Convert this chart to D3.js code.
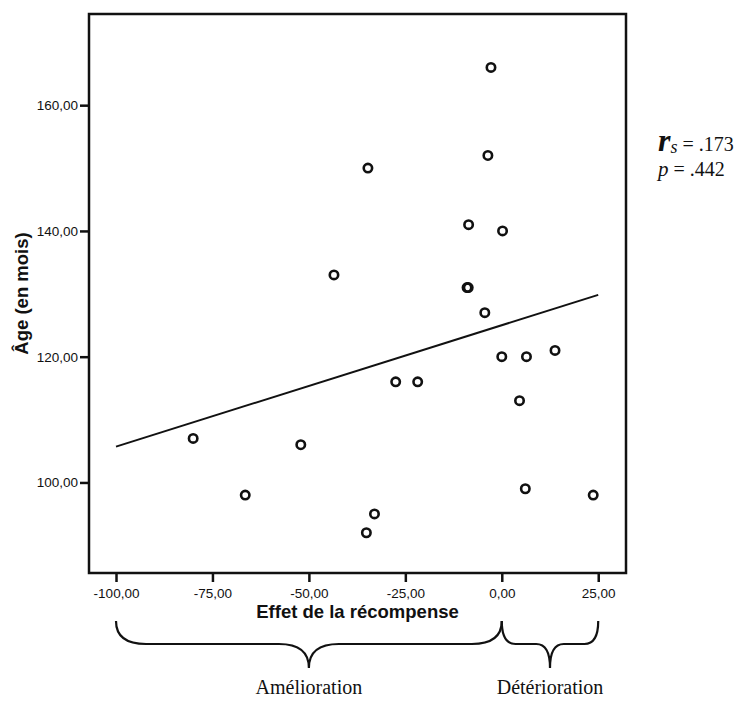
<!DOCTYPE html>
<html>
<head>
<meta charset="utf-8">
<script src="https://cdn.jsdelivr.net/npm/d3@7"></script>
<style>
  body { margin: 0; background: #fff; }
  svg { display: block; }
</style>
</head>
<body>
<svg id="drawing_region"></svg>
<script>
// values
const effet = [-2.8, -3.6, -34.7, -8.6, 0.2, -43.5, -9.0, -8.7, -4.4, 0.0, -27.5, -21.8,
               6.4, 13.8, 4.6, -52.1, -80.0, -66.5, -33.0, -35.1, 6.1, 23.7];
const age   = [166, 152, 150, 141, 140, 133, 131, 131, 127, 120, 116, 116,
               120, 121, 113, 106, 107, 98, 95, 92, 99, 98];

const xTicks = [-100, -75, -50, -25, 0, 25];
const yTicks = [100, 120, 140, 160];

// fitted line
const fitRange = [-100, 25];
const fitIntercept = 125.0;
const fitSlope = 0.193;

const braceLabels = ['Amélioration', 'Détérioration'];
const braceFrom = [-100, 0];
const braceTo = [0, 25];

const statLines = [['r', 's', ' = .173'], ['p', '', ' = .442']];

const config = {
    width: 739,
    height: 701,
    margin: {top: 14, right: 113, bottom: 128, left: 89},
    xdomain: [-107, 32.2],
    ydomain: [85.6, 174.5],
    xlabel: 'Effet de la récompense',
    ylabel: 'Âge (en mois)'
};

const svg = d3.select('#drawing_region')
    .attr('width', config.width)
    .attr('height', config.height);

const inner_width = config.width - config.margin.left - config.margin.right;
const inner_height = config.height - config.margin.top - config.margin.bottom;

const chart = svg.append('g')
    .attr('transform', `translate(${config.margin.left}, ${config.margin.top})`);

const xscale = d3.scaleLinear().domain(config.xdomain).range([0, inner_width]);
const yscale = d3.scaleLinear().domain(config.ydomain).range([inner_height, 0]);

const fr = d3.formatLocale({decimal: ',', thousands: '.', grouping: [3], currency: ['', ''], minus: '-'});
const fmt = fr.format('.2f');

const xaxis = d3.axisBottom(xscale).tickValues(xTicks).tickFormat(fmt).tickSize(9).tickSizeOuter(0).tickPadding(6);
const yaxis = d3.axisLeft(yscale).tickValues(yTicks).tickFormat(fmt).tickSize(9).tickSizeOuter(0).tickPadding(2);

const xaxis_group = chart.append('g')
    .attr('transform', `translate(0, ${inner_height})`)
    .call(xaxis);
const yaxis_group = chart.append('g').call(yaxis);

[xaxis_group, yaxis_group].forEach(g => {
    g.select('.domain').remove();
    g.selectAll('line').attr('stroke', '#111').attr('stroke-width', 2.5);
    g.selectAll('text')
        .attr('fill', '#111')
        .style('font-family', '"Liberation Sans", Arial, sans-serif')
        .style('font-size', '13.5px');
});

// frame
chart.append('rect')
    .attr('x', 0).attr('y', 0)
    .attr('width', inner_width).attr('height', inner_height)
    .attr('fill', 'none')
    .attr('stroke', '#111')
    .attr('stroke-width', 2.5);

// fit line
chart.append('line')
    .attr('x1', xscale(fitRange[0]))
    .attr('y1', yscale(fitIntercept + fitSlope * fitRange[0]))
    .attr('x2', xscale(fitRange[1]))
    .attr('y2', yscale(fitIntercept + fitSlope * fitRange[1]))
    .attr('stroke', '#111')
    .attr('stroke-width', 2);

// points
chart.selectAll('circle')
    .data(effet.map((d, i) => ({x: d, y: age[i]})))
    .join('circle')
    .attr('cx', d => xscale(d.x))
    .attr('cy', d => yscale(d.y))
    .attr('r', 4.2)
    .attr('fill', 'none')
    .attr('stroke', '#111')
    .attr('stroke-width', 2.6);

// axis titles
svg.append('text')
    .attr('x', config.margin.left + inner_width / 2)
    .attr('y', config.margin.top + inner_height + 45)
    .attr('text-anchor', 'middle')
    .style('font-family', '"Liberation Sans", Arial, sans-serif')
    .style('font-size', '18.5px')
    .style('font-weight', 'bold')
    .attr('fill', '#111')
    .text(config.xlabel);

svg.append('text')
    .attr('transform', `translate(28, ${config.margin.top + inner_height / 2}) rotate(-90)`)
    .attr('text-anchor', 'middle')
    .style('font-family', '"Liberation Sans", Arial, sans-serif')
    .style('font-size', '18.5px')
    .style('font-weight', 'bold')
    .attr('fill', '#111')
    .text(config.ylabel);

// braces below the x axis
const brace_top = inner_height + 48;
const brace_mid = inner_height + 71;
const brace_tip = inner_height + 95;

braceLabels.forEach((label, i) => {
    const x0 = xscale(braceFrom[i]);
    const x1 = xscale(braceTo[i]);
    const xm = (x0 + x1) / 2;
    const r = Math.min(30, (x1 - x0) / 7);
    const p = d3.path();
    p.moveTo(x0, brace_top);
    p.quadraticCurveTo(x0, brace_mid, x0 + r, brace_mid);
    p.lineTo(xm - r, brace_mid);
    p.quadraticCurveTo(xm, brace_mid, xm, brace_tip);
    p.quadraticCurveTo(xm, brace_mid, xm + r, brace_mid);
    p.lineTo(x1 - r, brace_mid);
    p.quadraticCurveTo(x1, brace_mid, x1, brace_top);
    chart.append('path')
        .attr('d', p.toString())
        .attr('fill', 'none')
        .attr('stroke', '#111')
        .attr('stroke-width', 2.2);

    chart.append('text')
        .attr('x', xm)
        .attr('y', inner_height + 121)
        .attr('text-anchor', 'middle')
        .style('font-family', '"Liberation Serif", "Times New Roman", serif')
        .style('font-size', '20px')
        .attr('fill', '#111')
        .text(label);
});

// statistics next to the plot
const stat_x = 658;
statLines.forEach((s, i) => {
    const t = svg.append('text')
        .attr('x', stat_x)
        .attr('y', 151 + i * 25)
        .style('font-family', '"Liberation Serif", "Times New Roman", serif')
        .style('font-size', '20px')
        .attr('fill', '#111');
    t.append('tspan')
        .style('font-style', 'italic')
        .style('font-weight', i === 0 ? 'bold' : 'normal')
        .style('font-size', i === 0 ? '32px' : '21px')
        .text(s[0]);
    if (s[1]) {
        t.append('tspan')
            .style('font-style', 'italic')
            .style('font-size', '18px')
            .attr('dy', 2)
            .text(s[1]);
        t.append('tspan').attr('dy', -2).text(s[2]);
    } else {
        t.append('tspan').text(s[2]);
    }
});
</script>
</body>
</html>
